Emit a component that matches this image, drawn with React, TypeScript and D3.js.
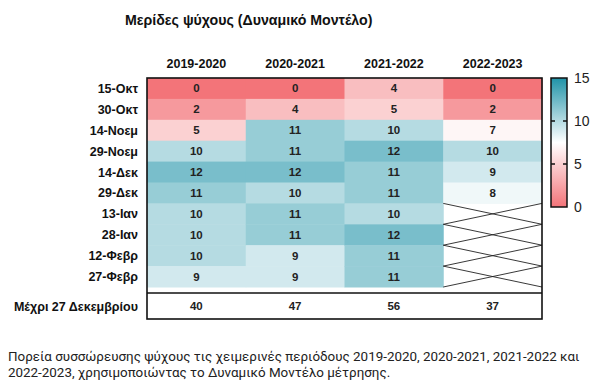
import React from "react";
import * as d3 from "d3";

const seasons = ["2019-2020", "2020-2021", "2021-2022", "2022-2023"];
const dates = ["15-Οκτ", "30-Οκτ", "14-Νοεμ", "29-Νοεμ", "14-Δεκ", "29-Δεκ", "13-Ιαν", "28-Ιαν", "12-Φεβρ", "27-Φεβρ"];
const v2019 = [0, 2, 5, 10, 12, 11, 10, 10, 10, 9];
const v2020 = [0, 4, 11, 11, 12, 10, 11, 11, 9, 9];
const v2021 = [4, 5, 10, 12, 11, 11, 10, 12, 11, 11];
const v2022: (number | null)[] = [0, 2, 7, 10, 9, 8, null, null, null, null];
const totals = [40, 47, 56, 37];
const totalLabel = "Μέχρι 27 Δεκεμβρίου";
const legendTicks = [0, 5, 10, 15];
const title = "Μερίδες ψύχους (Δυναμικό Μοντέλο)";
const caption1 = "Πορεία συσσώρευσης ψύχους τις χειμερινές περιόδους 2019-2020, 2020-2021, 2021-2022 και";
const caption2 = "2022-2023, χρησιμοποιώντας το Δυναμικό Μοντέλο μέτρησης.";

const series = [v2019, v2020, v2021, v2022];

export default function App() {
  const left = 147, right = 542, top = 78, rowsBottom = 287;
  const x = d3.scaleBand<string>().domain(seasons).range([left, right]);
  const y = d3.scaleBand<string>().domain(dates).range([top, rowsBottom]);
  const color = d3.scaleLinear<string>().domain([0, 7.5, 15]).range(["#f37479", "#ffffff", "#2093a8"]).clamp(true);
  const lg = d3.scaleLinear().domain([0, 15]).range([207, 78]);
  const font = "'Liberation Sans', Arial, sans-serif";
  const lineY = 293, boxBottom = 319;
  const stops = d3.range(0, 1.0001, 0.1);

  return (
    <svg width={600} height={388} style={{ position: "absolute", left: 0, top: 0 }} fontFamily={font}>
      <defs>
        <linearGradient id="cb" x1="0" y1="1" x2="0" y2="0">
          {stops.map((s, i) => (
            <stop key={i} offset={s} stopColor={color(s * 15)} />
          ))}
        </linearGradient>
      </defs>
      <rect width={600} height={388} fill="#fff" />
      <text x={125} y={25} fontSize={14.2} fontWeight="bold" fill="#111">{title}</text>
      {seasons.map((s) => (
        <text key={s} x={(x(s) as number) + x.bandwidth() / 2} y={68} textAnchor="middle" fontSize={12.5} fontWeight="bold" fill="#111">{s}</text>
      ))}
      {series.map((vals, ci) =>
        vals.map((v, ri) => {
          const cx = x(seasons[ci]) as number;
          const cy = y(dates[ri]) as number;
          const w = x.bandwidth(), h = y.bandwidth();
          if (v === null) {
            return (
              <g key={`${ci}-${ri}`}>
                <line x1={cx} y1={cy} x2={cx + w} y2={cy + h} stroke="#222" strokeWidth={0.9} />
                <line x1={cx} y1={cy + h} x2={cx + w} y2={cy} stroke="#222" strokeWidth={0.9} />
              </g>
            );
          }
          return (
            <g key={`${ci}-${ri}`}>
              <rect x={cx} y={cy} width={w + 0.5} height={h + 0.5} fill={color(v)} />
              <text x={cx + w / 2} y={cy + h / 2 + 4} textAnchor="middle" fontSize={11.5} fontWeight="bold" fill="#222">{v}</text>
            </g>
          );
        })
      )}
      {dates.map((d) => (
        <text key={d} x={138} y={(y(d) as number) + y.bandwidth() / 2 + 4.5} textAnchor="end" fontSize={12.5} fontWeight="bold" fill="#111">{d}</text>
      ))}
      <rect x={left} y={top} width={right - left} height={boxBottom - top} fill="none" stroke="#111" strokeWidth={1.6} />
      <line x1={left} x2={right} y1={lineY} y2={lineY} stroke="#111" strokeWidth={1.6} />
      <text x={138} y={(lineY + boxBottom) / 2 + 4.5} textAnchor="end" fontSize={12.5} fontWeight="bold" fill="#111">{totalLabel}</text>
      {totals.map((t, i) => (
        <text key={i} x={(x(seasons[i]) as number) + x.bandwidth() / 2} y={(lineY + boxBottom) / 2 + 4} textAnchor="middle" fontSize={11.5} fontWeight="bold" fill="#222">{t}</text>
      ))}
      <rect x={551} y={78} width={16} height={129} fill="url(#cb)" stroke="#111" strokeWidth={1.5} />
      {legendTicks.map((t) => (
        <g key={t}>
          {t !== 0 && t !== 15 && (
            <>
              <line x1={551} x2={555} y1={lg(t)} y2={lg(t)} stroke="#111" strokeWidth={1.5} />
              <line x1={563} x2={567} y1={lg(t)} y2={lg(t)} stroke="#111" strokeWidth={1.5} />
            </>
          )}
          <text x={574} y={lg(t) + 5} fontSize={14} fill="#222">{t}</text>
        </g>
      ))}
      <text x={8} y={361} fontSize={13.4} fontFamily="Roboto, sans-serif" fill="#222">{caption1}</text>
      <text x={8} y={377} fontSize={13.4} fontFamily="Roboto, sans-serif" fill="#222">{caption2}</text>
    </svg>
  );
}
